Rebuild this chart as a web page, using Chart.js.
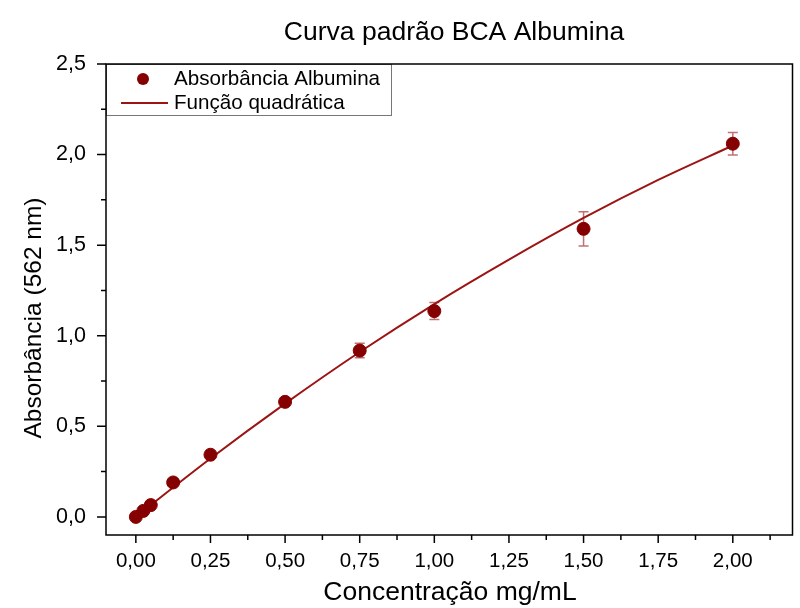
<!DOCTYPE html>
<html>
<head>
<meta charset="utf-8">
<script src="https://cdn.jsdelivr.net/npm/chart.js@4"></script>
<style>
  html, body { margin: 0; padding: 0; background: #ffffff; }
  #wrap { width: 800px; height: 608px; }
</style>
</head>
<body>
<div id="wrap"><canvas id="curveChart" width="800" height="608"></canvas></div>
<script>
// dados
const concentracao = [0, 0.025, 0.05, 0.125, 0.25, 0.5, 0.75, 1.0, 1.5, 2.0];
const absorbancia = [0.0, 0.033, 0.065, 0.19, 0.343, 0.635, 0.918, 1.136, 1.59, 2.06];
const erro = [0.005, 0.005, 0.006, 0.01, 0.012, 0.015, 0.04, 0.047, 0.095, 0.062];

// curva quadrática
const curvaX = [0, 0.25, 0.5, 0.75, 1.0, 1.25, 1.5, 1.75, 2.0];
const curvaY = [0, 0.322, 0.625, 0.91, 1.175, 1.42, 1.65, 1.86, 2.05];

// marcas dos eixos
const xMajor = [0, 0.25, 0.5, 0.75, 1.0, 1.25, 1.5, 1.75, 2.0];
const xMinor = [0.125, 0.375, 0.625, 0.875, 1.125, 1.375, 1.625, 1.875, 2.125];
const yMajor = [0, 0.5, 1.0, 1.5, 2.0, 2.5];
const yMinor = [0.25, 0.75, 1.25, 1.75, 2.25];

const corPonto = '#850000';
const corLinha = '#9c1414';
const fonte = '"Liberation Sans", Arial, sans-serif';

function fmt(v, d) {
    return v.toFixed(d).replace('.', ',');
}

// moldura, marcas, barras de erro, legenda e títulos
const extras = {
    id: 'extras',
    beforeDatasetsDraw(chart) {
        const ctx = chart.ctx;
        const xs = chart.scales.x, ys = chart.scales.y;
        ctx.save();
        ctx.strokeStyle = 'rgba(150, 20, 20, 0.6)';
        ctx.lineWidth = 1.5;
        concentracao.forEach((c, i) => {
            const px = xs.getPixelForValue(c);
            const top = ys.getPixelForValue(absorbancia[i] + erro[i]);
            const bot = ys.getPixelForValue(absorbancia[i] - erro[i]);
            ctx.beginPath();
            ctx.moveTo(px, top); ctx.lineTo(px, bot);
            ctx.moveTo(px - 5, top); ctx.lineTo(px + 5, top);
            ctx.moveTo(px - 5, bot); ctx.lineTo(px + 5, bot);
            ctx.stroke();
        });
        ctx.restore();
    },
    afterDraw(chart) {
        const ctx = chart.ctx;
        const a = chart.chartArea;
        const xs = chart.scales.x, ys = chart.scales.y;
        ctx.save();

        // legenda
        ctx.strokeStyle = '#777777';
        ctx.lineWidth = 1;
        ctx.fillStyle = '#ffffff';
        ctx.fillRect(a.left, a.top, 285, 51);
        ctx.strokeRect(a.left + 0.5, a.top + 0.5, 285, 51);
        ctx.fillStyle = corPonto;
        ctx.beginPath();
        ctx.arc(a.left + 37, a.top + 15, 6, 0, Math.PI * 2);
        ctx.fill();
        ctx.strokeStyle = corLinha;
        ctx.lineWidth = 2;
        ctx.beginPath();
        ctx.moveTo(a.left + 15, a.top + 39);
        ctx.lineTo(a.left + 62, a.top + 39);
        ctx.stroke();
        ctx.fillStyle = '#000000';
        ctx.font = '20.6px ' + fonte;
        ctx.textBaseline = 'middle';
        ctx.textAlign = 'left';
        ctx.fillText(chart.data.datasets[0].label, a.left + 68, a.top + 15);
        ctx.fillText(chart.data.datasets[1].label, a.left + 68, a.top + 39);

        // moldura
        ctx.strokeStyle = '#000000';
        ctx.lineWidth = 1.5;
        ctx.strokeRect(a.left, a.top, a.right - a.left, a.bottom - a.top);

        // marcas
        ctx.beginPath();
        xMajor.forEach(v => { const p = xs.getPixelForValue(v); ctx.moveTo(p, a.bottom); ctx.lineTo(p, a.bottom + 8); });
        xMinor.forEach(v => { const p = xs.getPixelForValue(v); ctx.moveTo(p, a.bottom); ctx.lineTo(p, a.bottom + 5); });
        yMajor.forEach(v => { const p = ys.getPixelForValue(v); ctx.moveTo(a.left, p); ctx.lineTo(a.left - 9, p); });
        yMinor.forEach(v => { const p = ys.getPixelForValue(v); ctx.moveTo(a.left, p); ctx.lineTo(a.left - 5, p); });
        ctx.stroke();

        // títulos
        ctx.fillStyle = '#000000';
        ctx.textAlign = 'center';
        ctx.font = '26.5px ' + fonte;
        ctx.fillText('Curva padrão BCA Albumina', 454, 33);
        ctx.font = '26.5px ' + fonte;
        ctx.fillText('Concentração mg/mL', 450, 593);
        ctx.font = '24.5px ' + fonte;
        ctx.translate(34, 318);
        ctx.rotate(-Math.PI / 2);
        ctx.fillText('Absorbância (562 nm)', 0, 0);
        ctx.restore();
    }
};

document.addEventListener('DOMContentLoaded', function() {
    const el = document.getElementById('curveChart');
    new Chart(el, {
        type: 'scatter',
        data: {
            datasets: [
                {
                    label: 'Absorbância Albumina',
                    data: concentracao.map((c, i) => ({ x: c, y: absorbancia[i] })),
                    backgroundColor: corPonto,
                    borderColor: corPonto,
                    pointRadius: 6.5,
                    pointHoverRadius: 6.5,
                    order: 0
                },
                {
                    label: 'Função quadrática',
                    type: 'line',
                    data: curvaX.map((c, i) => ({ x: c, y: curvaY[i] })),
                    borderColor: corLinha,
                    borderWidth: 2,
                    pointRadius: 0,
                    fill: false,
                    cubicInterpolationMode: 'monotone',
                    order: 1
                }
            ]
        },
        options: {
            responsive: false,
            animation: false,
            layout: { padding: { top: 64, right: 4, left: 0, bottom: 0 } },
            plugins: {
                legend: { display: false },
                title: { display: false },
                tooltip: { enabled: false }
            },
            scales: {
                x: {
                    type: 'linear',
                    min: -0.1,
                    max: 2.2,
                    afterFit: s => { s.height = 73; },
                    afterBuildTicks: s => { s.ticks = xMajor.map(v => ({ value: v })); },
                    grid: { display: false },
                    border: { display: false },
                    ticks: {
                        color: '#000000',
                        font: { family: fonte, size: 20.5 },
                        padding: 6,
                        maxRotation: 0,
                        autoSkip: false,
                        callback: v => fmt(v, 2)
                    }
                },
                y: {
                    type: 'linear',
                    min: -0.1,
                    max: 2.5,
                    afterFit: s => { s.width = 106; },
                    afterBuildTicks: s => { s.ticks = yMajor.map(v => ({ value: v })); },
                    grid: { display: false },
                    border: { display: false },
                    ticks: {
                        color: '#000000',
                        font: { family: fonte, size: 21.5 },
                        padding: 12,
                        autoSkip: false,
                        callback: v => fmt(v, 1)
                    }
                }
            }
        },
        plugins: [extras]
    });
});
</script>
</body>
</html>
